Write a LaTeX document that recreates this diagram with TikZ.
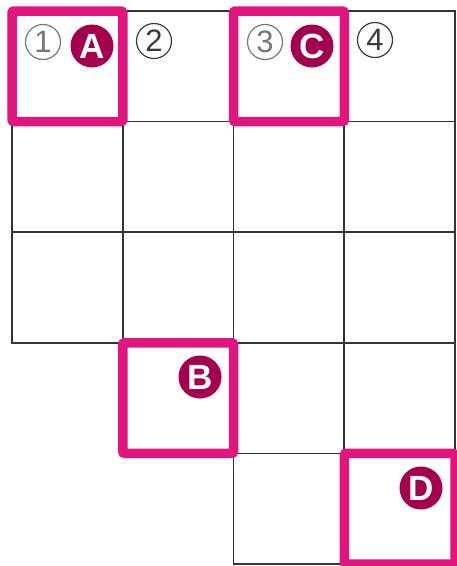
\documentclass[tikz,border=0pt]{standalone}
\usepackage{fontspec}
\newfontfamily\letfont{Liberation Sans}
\definecolor{hl}{HTML}{E0157D}
\definecolor{badgec}{HTML}{A3004F}
\definecolor{gridc}{HTML}{333333}
\definecolor{numlight}{HTML}{777777}
\definecolor{numdark}{HTML}{3A3A3A}
\begin{document}
\begin{tikzpicture}[x=1pt,y=-1pt,
  cell/.style={draw=gridc, line width=1.6pt, minimum width=110.75pt, minimum height=110.6pt, inner sep=0pt, outer sep=0pt, anchor=north west},
  hlbox/.style={draw=hl, line width=9.5pt, rounded corners=2pt, minimum width=110.75pt, minimum height=110.6pt, inner sep=0pt},
  badge/.style={circle, fill=badgec, text=white, minimum size=43pt, inner sep=0pt, font=\letfont\bfseries\fontsize{35}{35}\selectfont},
  num/.style={circle, draw, line width=1.2pt, minimum size=35pt, inner sep=0pt, font=\letfont\fontsize{31}{31}\selectfont}]
\useasboundingbox (0,0) rectangle (457,566);
\fill[white] (0,0) rectangle (457,566);
\foreach \r/\c in {1/1,1/2,1/3,1/4,2/1,2/2,2/3,2/4,3/1,3/2,3/3,3/4,4/2,4/3,4/4,5/3,5/4}
  \node[cell] (c\r\c) at ({12+110.75*(\c-1)},{11+110.6*(\r-1)}) {};
\node[hlbox] (hA) at (c11.center) {};
\node[hlbox] (hC) at (c13.center) {};
\node[hlbox] (hB) at (c42.center) {};
\node[hlbox] (hD) at (c54.center) {};
\node[num, draw=numlight, text=numlight] (n1) at (43,42) {1};
\node[num, draw=numdark, text=numdark] (n2) at (154,41) {2};
\node[num, draw=numlight, text=numlight] (n3) at (265,42) {3};
\node[num, draw=numdark, text=numdark] (n4) at (375,40) {4};
\node[badge] (bA) at (92,46) {A};
\node[badge] (bC) at (312,46) {C};
\node[badge] (bB) at (200,377) {B};
\node[badge] (bD) at (421,488) {D};
\end{tikzpicture}
\end{document}
